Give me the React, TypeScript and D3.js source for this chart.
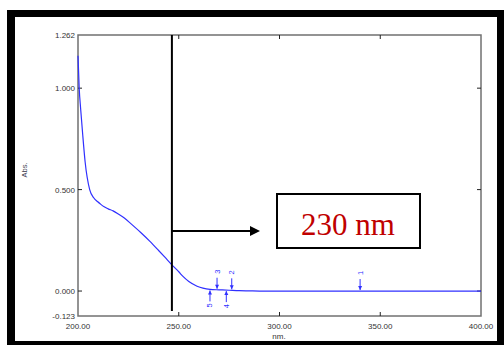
import React from 'react';
import * as d3 from 'd3';

// spectrum
const wavelengths = [200, 200.6, 201.3, 202.3, 203.5, 205.8, 207.8, 209.8, 211, 213, 215, 217.4, 220, 223, 226.5, 231, 235.7, 240, 243, 246.7, 250, 252.1, 255, 259.1, 262, 265.5, 270, 275, 280, 285, 290, 300, 320, 340, 360, 380, 400];
const absorbance = [1.16, 1.0, 0.9, 0.775, 0.64, 0.5, 0.46, 0.44, 0.43, 0.415, 0.405, 0.395, 0.38, 0.36, 0.33, 0.29, 0.245, 0.2, 0.168, 0.128, 0.095, 0.072, 0.047, 0.024, 0.014, 0.008, 0.006, 0.004, 0.002, 0.001, 0, 0, 0, 0, 0, 0, 0];

const xTicks = [200, 250, 300, 350, 400];
const yTicks = [-0.123, 0, 0.5, 1.0, 1.262];

const peakNm = [340, 276.3, 269, 273.6, 265.5];
const peakLabels = ['1', '2', '3', '4', '5'];
const peakSide = ['top', 'top', 'top', 'bottom', 'bottom'];

const markerNm = 246.6;

const W = 504;
const H = 345;
const plot = { left: 78, right: 481, top: 35, bottom: 316 };

export default function App() {
  const x = d3.scaleLinear().domain([200, 400]).range([plot.left, plot.right]);
  const y = d3.scaleLinear().domain([-0.123, 1.262]).range([plot.bottom, plot.top]);

  const pts: [number, number][] = wavelengths.map((w, i) => [w, absorbance[i]]);
  const line = d3.line<[number, number]>()
    .x(d => x(d[0]))
    .y(d => y(d[1]))
    .curve(d3.curveMonotoneX);

  const interp = (w: number) => {
    const i = d3.bisectLeft(wavelengths, w);
    if (i <= 0) return absorbance[0];
    const w0 = wavelengths[i - 1], w1 = wavelengths[i];
    const t = (w - w0) / (w1 - w0);
    return absorbance[i - 1] + t * (absorbance[i] - absorbance[i - 1]);
  };

  const font = '"Liberation Sans", Arial, sans-serif';
  const blue = '#3030ff';
  const grey = '#707070';

  const arrowY = 231;
  const vx = x(markerNm);

  return (
    <div style={{ position: 'absolute', left: 0, top: 0 }}>
      <svg width={W} height={H} style={{ display: 'block' }}>
        {/* outer thick frame */}
        <rect x={7} y={10} width={W - 7} height={H - 10} fill="#000" />
        <rect x={15} y={17} width={482} height={324} fill="#fff" />

        {/* plot frame */}
        <rect x={plot.left} y={plot.top} width={plot.right - plot.left} height={plot.bottom - plot.top}
          fill="none" stroke={grey} strokeWidth={1.5} />

        {/* x ticks */}
        {xTicks.map(t => (
          <g key={'x' + t}>
            {t > 200 && t < 400 && (
              <>
                <line x1={x(t)} x2={x(t)} y1={plot.bottom} y2={plot.bottom - 4} stroke="#222" />
                <line x1={x(t)} x2={x(t)} y1={plot.top} y2={plot.top + 4} stroke="#222" />
              </>
            )}
            <text x={x(t)} y={329} fontFamily={font} fontSize={8} fill="#333" textAnchor="middle">
              {t.toFixed(2)}
            </text>
          </g>
        ))}
        <text x={279} y={339} fontFamily={font} fontSize={8} fill="#333" textAnchor="middle">nm.</text>

        {/* y ticks */}
        {yTicks.map(t => (
          <g key={'y' + t}>
            {t === 0 || t === 0.5 || t === 1.0 ? (
              <>
                <line x1={plot.left} x2={plot.left + 4} y1={y(t)} y2={y(t)} stroke="#222" />
                <line x1={plot.right} x2={plot.right - 4} y1={y(t)} y2={y(t)} stroke="#222" />
              </>
            ) : null}
            <text x={75} y={y(t) + 3} fontFamily={font} fontSize={8} fill="#333" textAnchor="end">
              {t.toFixed(3)}
            </text>
          </g>
        ))}
        <text transform="translate(27,170) rotate(-90)" fontFamily={font} fontSize={7.5} fill="#445" textAnchor="middle">Abs.</text>

        {/* spectrum */}
        <path d={line(pts) || ''} fill="none" stroke={blue} strokeWidth={1.2} />

        {/* peak markers */}
        {peakNm.map((p, i) => {
          const px = x(p);
          const py = y(interp(p));
          const top = peakSide[i] === 'top';
          const y1 = top ? py - 12 : py + 12;
          const y2 = top ? py - 1 : py + 1;
          const head = top ? -1 : 1;
          const ly = top ? py - 18 : py + 16;
          return (
            <g key={'p' + i}>
              <line x1={px} x2={px} y1={y1} y2={y2} stroke={blue} strokeWidth={1} />
              <path d={`M${px - 2},${y2 + head * 4}L${px + 2},${y2 + head * 4}L${px},${y2}Z`} fill={blue} />
              <text transform={`translate(${px + 2.5},${ly}) rotate(-90)`} fontFamily={font} fontSize={7.5}
                fill={blue} textAnchor="middle">{peakLabels[i]}</text>
            </g>
          );
        })}

        {/* vertical marker line */}
        <line x1={vx} x2={vx} y1={plot.top} y2={311} stroke="#000" strokeWidth={2} />

        {/* arrow to label box */}
        <line x1={vx} x2={252} y1={arrowY} y2={arrowY} stroke="#000" strokeWidth={2} />
        <path d={`M250,${arrowY - 5}L260,${arrowY}L250,${arrowY + 5}Z`} fill="#000" />

        {/* label box */}
        <rect x={277} y={194} width={143} height={54} fill="#fff" stroke="#000" strokeWidth={2} />
        <text x={348} y={235} fontFamily='"Liberation Serif", "Times New Roman", serif' fontSize={31}
          fill="#c00000" textAnchor="middle">230 nm</text>
      </svg>
    </div>
  );
}
